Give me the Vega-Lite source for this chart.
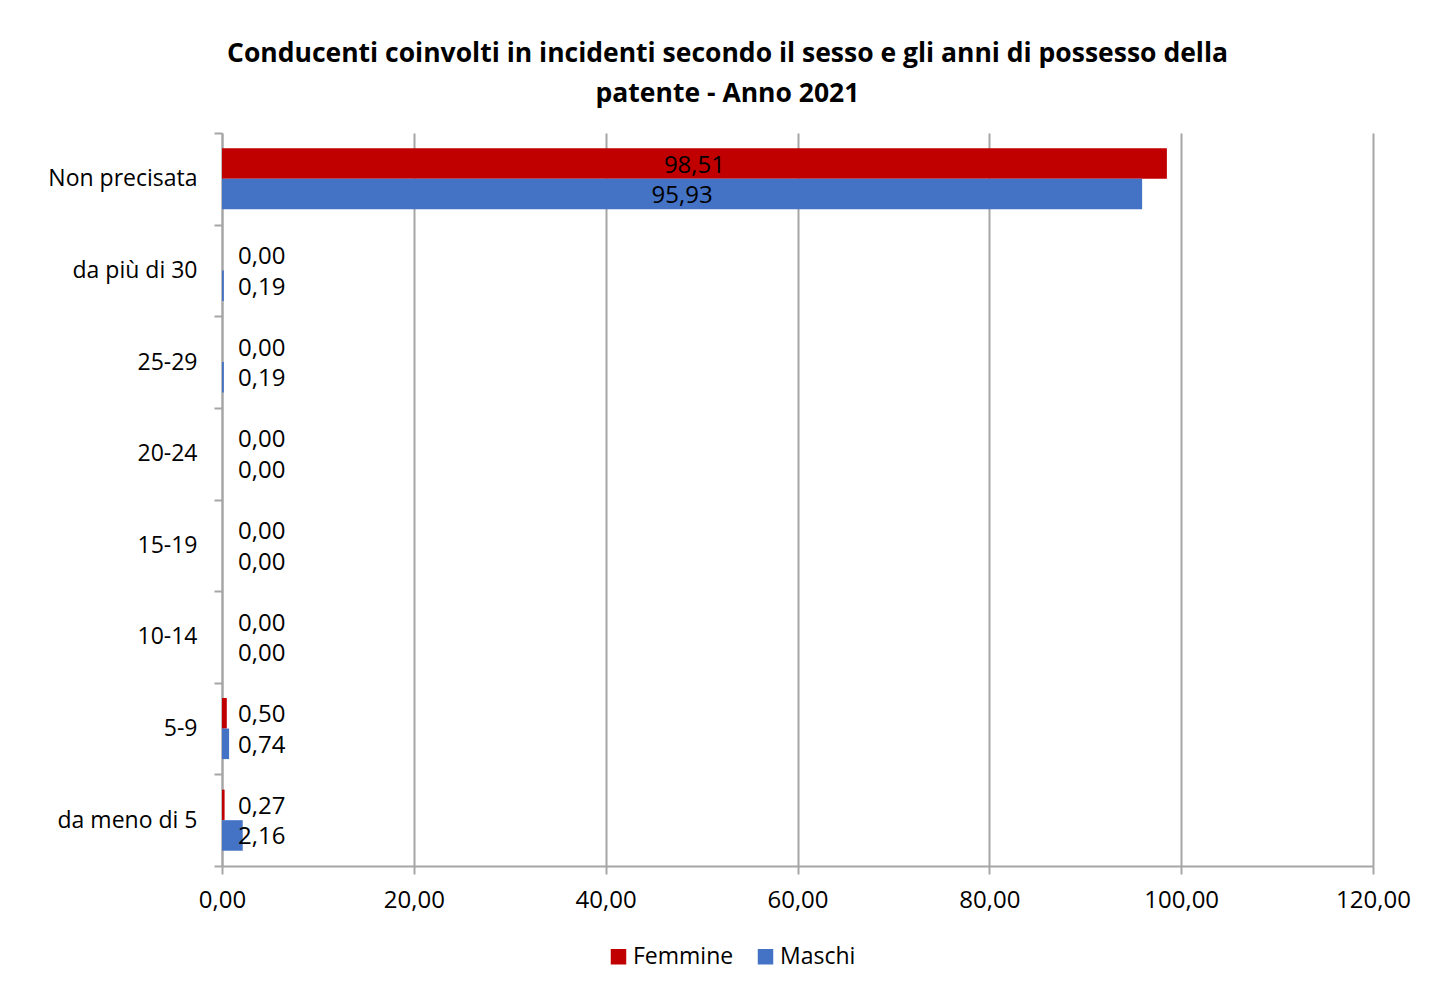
{
  "$schema": "https://vega.github.io/schema/vega-lite/v6.json",
  "width": 1151,
  "height": 733,
  "autosize": {"type": "none"},
  "padding": {"left": 222, "top": 133, "right": 63, "bottom": 121},
  "background": "white",
  "title": {
    "text": ["Conducenti coinvolti in incidenti secondo il sesso e gli anni di possesso della", "patente - Anno 2021"],
    "font": "Open Sans",
    "fontSize": 26.5,
    "fontWeight": "bold",
    "color": "black",
    "anchor": "middle",
    "frame": "group",
    "lineHeight": 40,
    "offset": 15,
    "dx": -70
  },
  "config": {
    "locale": {"number": {"decimal": ",", "thousands": ".", "grouping": [3], "currency": ["€", ""]}},
    "view": {"stroke": null},
    "font": "Open Sans"
  },
  "data": {
    "values": [
      {"cat": "Non precisata", "sex": "Femmine", "value": 98.51},
      {"cat": "Non precisata", "sex": "Maschi", "value": 95.93},
      {"cat": "da più di 30", "sex": "Femmine", "value": 0.00},
      {"cat": "da più di 30", "sex": "Maschi", "value": 0.19},
      {"cat": "25-29", "sex": "Femmine", "value": 0.00},
      {"cat": "25-29", "sex": "Maschi", "value": 0.19},
      {"cat": "20-24", "sex": "Femmine", "value": 0.00},
      {"cat": "20-24", "sex": "Maschi", "value": 0.00},
      {"cat": "15-19", "sex": "Femmine", "value": 0.00},
      {"cat": "15-19", "sex": "Maschi", "value": 0.00},
      {"cat": "10-14", "sex": "Femmine", "value": 0.00},
      {"cat": "10-14", "sex": "Maschi", "value": 0.00},
      {"cat": "5-9", "sex": "Femmine", "value": 0.50},
      {"cat": "5-9", "sex": "Maschi", "value": 0.74},
      {"cat": "da meno di 5", "sex": "Femmine", "value": 0.27},
      {"cat": "da meno di 5", "sex": "Maschi", "value": 2.16}
    ]
  },
  "encoding": {
    "y": {
      "field": "cat",
      "type": "nominal",
      "sort": ["Non precisata", "da più di 30", "25-29", "20-24", "15-19", "10-14", "5-9", "da meno di 5"],
      "scale": {"paddingInner": 0, "paddingOuter": 0},
      "axis": {
        "title": null,
        "labelFont": "Open Sans",
        "labelFontSize": 23,
        "labelColor": "black",
        "labelPadding": 17,
        "tickBand": "extent",
        "tickSize": 8,
        "tickColor": "#A6A6A6",
        "tickWidth": 2,
        "domainColor": "#A6A6A6",
        "domainWidth": 2,
        "grid": false
      }
    },
    "yOffset": {"field": "sex", "type": "nominal", "sort": ["Femmine", "Maschi"], "scale": {"paddingInner": 0, "paddingOuter": 0.5}}
  },
  "layer": [
    {
      "mark": {"type": "bar", "stroke": null},
      "encoding": {
        "x": {
          "field": "value",
          "type": "quantitative",
          "scale": {"domain": [0, 120], "nice": false},
          "axis": {
            "title": null,
            "values": [0, 20, 40, 60, 80, 100, 120],
            "format": ".2f",
            "labelFlush": false,
            "labelFont": "Open Sans",
            "labelFontSize": 24,
            "labelColor": "black",
            "labelPadding": 14,
            "tickSize": 8,
            "tickColor": "#A6A6A6",
            "tickWidth": 2,
            "domainColor": "#A6A6A6",
            "domainWidth": 2,
            "grid": true,
            "gridColor": "#A6A6A6",
            "gridWidth": 2
          }
        },
        "color": {
          "field": "sex",
          "type": "nominal",
          "scale": {"domain": ["Femmine", "Maschi"], "range": ["#C00000", "#4472C4"]},
          "legend": {
            "title": null,
            "orient": "none",
            "legendX": 385,
            "legendY": 812,
            "direction": "horizontal",
            "symbolType": "square",
            "symbolSize": 240,
            "symbolStrokeWidth": 0,
            "labelFont": "Open Sans",
            "labelFontSize": 23,
            "labelColor": "black",
            "labelOffset": 3,
            "columnPadding": 20
          }
        }
      }
    },
    {
      "transform": [{"filter": "datum.value >= 10"}, {"calculate": "datum.value / 2", "as": "mid"}],
      "mark": {"type": "text", "font": "Open Sans", "fontSize": 24, "color": "black", "align": "center", "baseline": "middle", "dy": 2},
      "encoding": {
        "x": {"field": "mid", "type": "quantitative"},
        "text": {"field": "value", "type": "quantitative", "format": ".2f"}
      }
    },
    {
      "transform": [{"filter": "datum.value < 10"}],
      "mark": {"type": "text", "font": "Open Sans", "fontSize": 24, "color": "black", "align": "left", "baseline": "middle", "dx": 16, "dy": 2},
      "encoding": {
        "x": {"datum": 0, "type": "quantitative"},
        "text": {"field": "value", "type": "quantitative", "format": ".2f"}
      }
    }
  ]
}
